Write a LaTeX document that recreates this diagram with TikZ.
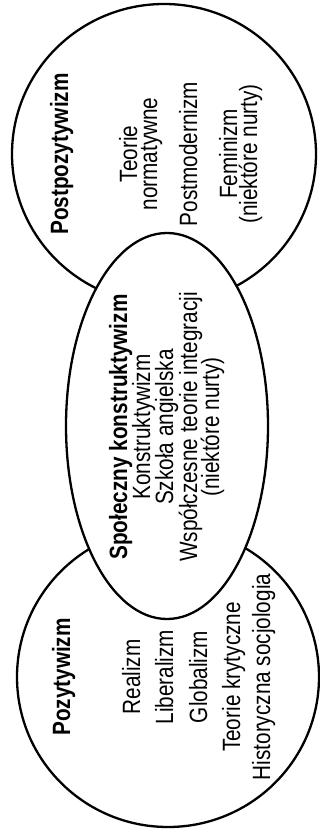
\documentclass[tikz,border=0pt]{standalone}
\usepackage{fontspec}
\setmainfont{Liberation Sans}[FakeStretch=0.83]
\usetikzlibrary{shapes.geometric}
\begin{document}
\begin{tikzpicture}[x=1pt,y=-1pt,
  area/.style={ellipse, draw=black, line width=2.3pt, inner sep=0pt},
  lbl/.style={rotate=90, anchor=base, inner sep=0pt, font=\fontsize{25}{27}\selectfont},
  head/.style={lbl, font=\fontsize{25}{27}\selectfont\bfseries}]
\useasboundingbox (0,0) rectangle (320,832);
\fill[white] (0,0) rectangle (320,832);
% shapes
\node[area, minimum width=304pt, minimum height=300pt] (post) at (164,154) {};
\node[area, minimum width=302pt, minimum height=300pt] (poz) at (168,677) {};
\node[area, fill=white, minimum width=202pt, minimum height=386pt] (kon) at (167,426) {};
% top circle
\node[head] (t0) at (68,154) {Postpozytywizm};
\node[lbl] (t1) at (137,154) {Teorie};
\node[lbl] (t2) at (157,154) {normatywne};
\node[lbl] (t3) at (197,154) {Postmodernizm};
\node[lbl] (t4) at (237,154) {Feminizm};
\node[lbl] (t5) at (257,154) {(niektóre nurty)};
% middle ellipse
\node[head] (m0) at (127,427) {Społeczny konstruktywizm};
\node[lbl] (m1) at (150,427) {Konstruktywizm};
\node[lbl] (m2) at (173,427) {Szkoła angielska};
\node[lbl] (m3) at (197,427) {Współczesne teorie integracji};
\node[lbl] (m4) at (219,427) {(niektóre nurty)};
% bottom circle
\node[head] (b0) at (70,677) {Pozytywizm};
\node[lbl] (b1) at (140,677) {Realizm};
\node[lbl] (b2) at (173,677) {Liberalizm};
\node[lbl] (b3) at (207,677) {Globalizm};
\node[lbl] (b4) at (240,677) {Teorie krytyczne};
\node[lbl] (b5) at (270,677) {Historyczna socjologia};
\end{tikzpicture}
\end{document}
